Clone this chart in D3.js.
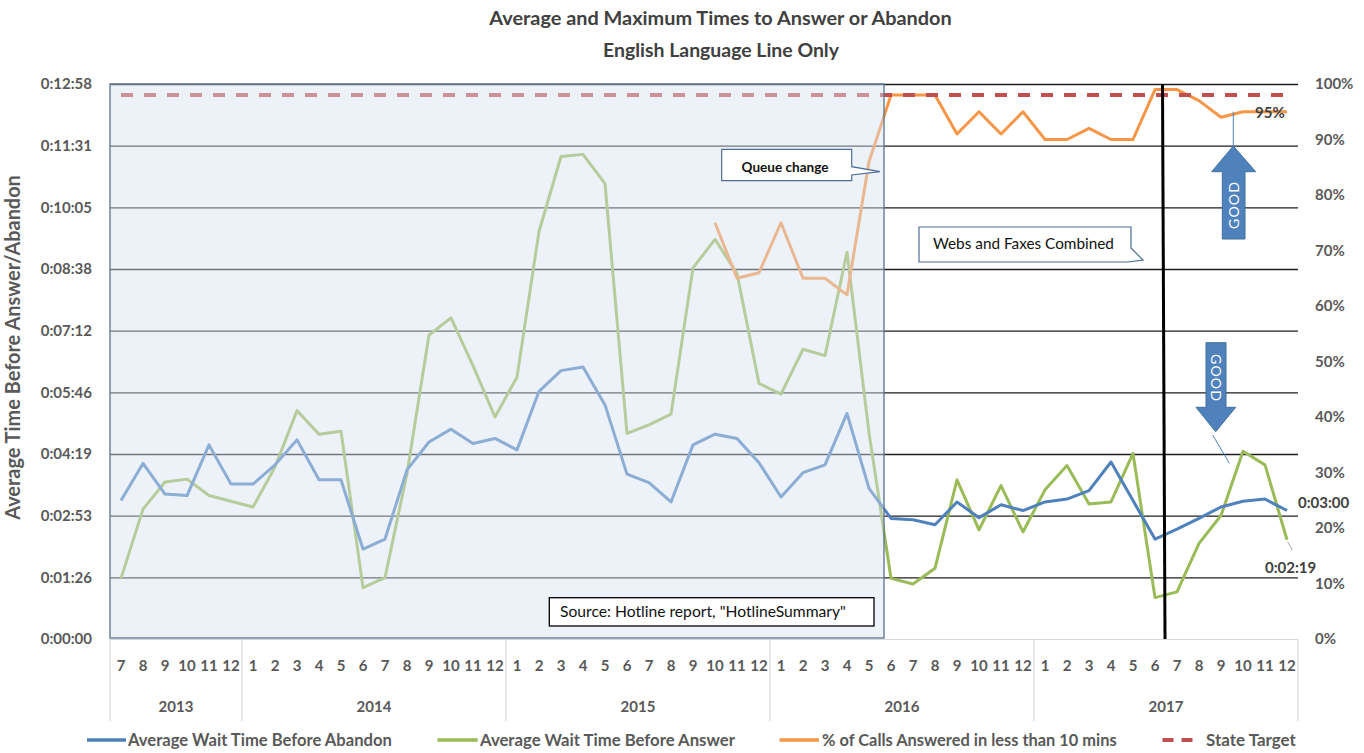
<!DOCTYPE html>
<html><head><meta charset="utf-8">
<script src="https://cdn.jsdelivr.net/npm/d3@7"></script>
<style>
body{margin:0;background:#fff;}
svg{display:block;font-family:Lato,"Open Sans",sans-serif;}
</style>
</head><body>
<svg id="c" width="1364" height="753"></svg>
<script>
// ---------- DATA ----------
const monthLabels = ["7","8","9","10","11","12",
  "1","2","3","4","5","6","7","8","9","10","11","12",
  "1","2","3","4","5","6","7","8","9","10","11","12",
  "1","2","3","4","5","6","7","8","9","10","11","12",
  "1","2","3","4","5","6","7","8","9","10","11","12"];
const yearLabels = ["2013","2014","2015","2016","2017"];
const yearMonthCounts = [6,12,12,12,12];

// seconds
const abandonSec = [194,246,203,201,272,217,
  217,244,279,223,223,126,140,237,276,294,274,281,
  265,347,376,381,328,231,219,192,272,287,281,247,
  199,233,244,316,211,169,167,160,192,170,188,180,
  192,196,208,248,194,140,154,169,185,193,196,180];
const answerSec = [85,182,220,224,201,193,
  185,241,320,287,291,72,86,232,426,450,383,311,
  367,571,676,679,638,288,300,315,520,560,512,358,
  343,406,397,542,289,85,77,99,223,153,215,150,
  209,243,189,192,260,58,66,134,173,263,244,139];
// fraction of calls answered in less than 10 mins (null = not reported)
const pctAnswered = [null,null,null,null,null,null,
  null,null,null,null,null,null,null,null,null,null,null,null,
  null,null,null,null,null,null,null,null,null,0.75,0.65,0.66,
  0.75,0.65,0.65,0.62,0.86,0.98,0.98,0.98,0.91,0.95,0.91,0.95,
  0.90,0.90,0.92,0.90,0.90,0.99,0.99,0.97,0.94,0.95,0.95,0.95];
const stateTarget = 0.98;

const timeTickValues = [0,86.4,172.8,259.2,345.6,432,518.4,604.8,691.2,777.6];
const timeTickLabels = ["0:00:00","0:01:26","0:02:53","0:04:19","0:05:46","0:07:12","0:08:38","0:10:05","0:11:31","0:12:58"];
const pctTickValues = [0,0.1,0.2,0.3,0.4,0.5,0.6,0.7,0.8,0.9,1];
const pctTickLabels = ["0%","10%","20%","30%","40%","50%","60%","70%","80%","90%","100%"];
const seriesNames = ["Average Wait Time Before Abandon","Average Wait Time Before Answer","% of Calls Answered in less than 10 mins","State Target"];
const titleLines = ["Average and Maximum Times to Answer or Abandon","English Language Line Only"];
const yAxisTitle = "Average Time Before Answer/Abandon";
const lastAbandonLabel = "0:03:00";
const lastAnswerLabel = "0:02:19";
const lastPctLabel = "95%";

// ---------- LAYOUT ----------
const W=1364,H=753, L=110, R=1298, T=84, B=639;
const C = {blue:"#4f81bd", green:"#9bbb59", orange:"#f79646", red:"#c0504d", axis:"#595959"};
const svg = d3.select("#c");

const n = monthLabels.length;
const x = d3.scaleBand().domain(d3.range(n)).range([L,R]);
const xc = i => x(i) + x.bandwidth()/2;
const yT = d3.scaleLinear().domain([0,777.6]).range([B,T]);
const yP = d3.scaleLinear().domain([0,1]).range([B,T]);

function fit(sel, w){
  const len = sel.node().getComputedTextLength();
  const fs = parseFloat(sel.attr("font-size"));
  sel.attr("font-size", fs*w/len);
  return sel;
}

// gridlines
const grid = svg.append("g").attr("transform",`translate(${L},0)`)
  .call(d3.axisLeft(yT).tickValues(timeTickValues.slice(1)).tickSize(-(R-L)).tickFormat(""));
grid.select(".domain").remove();
grid.selectAll("line").attr("stroke","#1e1e1e").attr("stroke-width",1.3);

// category axis line
svg.append("line").attr("x1",L).attr("x2",R).attr("y1",B+0.5).attr("y2",B+0.5).attr("stroke","#d9d9d9").attr("stroke-width",1.2);

// series lines
const lineT = d3.line().x((d,i)=>xc(i)).y(d=>yT(d));
const lineP = d3.line().defined(d=>d!=null).x((d,i)=>xc(i)).y(d=>yP(d));
svg.append("path").datum(answerSec).attr("d",lineT).attr("fill","none").attr("stroke",C.green).attr("stroke-width",3).attr("stroke-linejoin","round");
svg.append("path").datum(abandonSec).attr("d",lineT).attr("fill","none").attr("stroke",C.blue).attr("stroke-width",3).attr("stroke-linejoin","round");
svg.append("path").datum(pctAnswered).attr("d",lineP).attr("fill","none").attr("stroke",C.orange).attr("stroke-width",3).attr("stroke-linejoin","round");
svg.append("path").datum(monthLabels.map(()=>stateTarget)).attr("d",lineP).attr("fill","none")
  .attr("stroke",C.red).attr("stroke-width",4).attr("stroke-dasharray","12,11");

// shaded overlay (historical period)
const shadeR = x(35)+4;
svg.append("rect").attr("x",L).attr("y",T).attr("width",shadeR-L).attr("height",B-T-1)
  .attr("fill","rgb(216,226,240)").attr("fill-opacity",0.45)
  .attr("stroke","#5a7090").attr("stroke-width",1.3);

// vertical separator line
svg.append("line").attr("x1",xc(47)+7.5).attr("y1",T).attr("x2",xc(47)+10).attr("y2",B)
  .attr("stroke","#000").attr("stroke-width",3);

// Queue change callout
svg.append("path").attr("d","M721.7,149.3 H851.7 V166.7 L880,171.7 L851.7,175 V180.7 H721.7 Z")
  .attr("fill","#fff").attr("stroke","#4f6d96").attr("stroke-width",1.2);
fit(svg.append("text").attr("x",785).attr("y",171.5).attr("text-anchor","middle")
  .attr("font-size",14).attr("font-weight","bold").attr("fill","#111").text("Queue change"),87);

// Webs and faxes callout
svg.append("path").attr("d","M919,227 H1131 V248 L1143,260 L1128,262 H919 Z")
  .attr("fill","#fff").attr("stroke","#4f6d96").attr("stroke-width",1.2);
fit(svg.append("text").attr("x",1023.5).attr("y",249).attr("text-anchor","middle")
  .attr("font-size",15).attr("fill","#111").text("Webs and Faxes Combined"),181);

// Source box
svg.append("rect").attr("x",549.3).attr("y",597.7).attr("width",324.7).attr("height",28.3)
  .attr("fill","#fff").attr("stroke","#000").attr("stroke-width",1.3);
fit(svg.append("text").attr("x",560).attr("y",617).attr("font-size",14).attr("fill","#111")
  .text("Source: Hotline report, \"HotlineSummary\""),286);

// Up GOOD arrow
svg.append("line").attr("x1",1233.3).attr("y1",111.7).attr("x2",1233.3).attr("y2",146).attr("stroke",C.blue).attr("stroke-width",1);
svg.append("path").attr("d","M1233.3,146 L1255.7,171.7 H1245 V239 H1222.3 V171.7 H1211.7 Z")
  .attr("fill",C.blue).attr("stroke","#41719c").attr("stroke-width",1);
fit(svg.append("text").attr("transform","translate(1239,205) rotate(-90)").attr("text-anchor","middle")
  .attr("font-size",14).attr("fill","#fff").attr("letter-spacing",1).text("GOOD"),48);

// Down GOOD arrow
svg.append("path").attr("d","M1206,342.7 H1226 V407.3 H1235.7 L1215.7,431.7 L1196,407.3 H1206 Z")
  .attr("fill",C.blue).attr("stroke","#41719c").attr("stroke-width",1);
fit(svg.append("text").attr("transform","translate(1211,378) rotate(90)").attr("text-anchor","middle")
  .attr("font-size",14).attr("fill","#fff").attr("letter-spacing",1).text("GOOD"),48);
svg.append("line").attr("x1",1212.7).attr("y1",435).attr("x2",1229.3).attr("y2",463.3).attr("stroke",C.blue).attr("stroke-width",1);

// value labels
svg.append("text").attr("x",xc(n-1)-32).attr("y",yP(pctAnswered[n-1])+6).attr("font-size",15).attr("font-weight","bold").attr("fill","#404040").text(lastPctLabel);
svg.append("text").attr("x",R).attr("y",yT(abandonSec[n-1])-3).attr("font-size",15).attr("font-weight","bold").attr("fill","#404040").text(lastAbandonLabel);
svg.append("line").attr("x1",1287.7).attr("y1",541.7).attr("x2",1292.3).attr("y2",550).attr("stroke","#a6a6a6").attr("stroke-width",1);
svg.append("text").attr("x",1265).attr("y",572.5).attr("font-size",15).attr("font-weight","bold").attr("fill","#404040").text(lastAnswerLabel);

// left axis
const ax = svg.append("g").attr("transform",`translate(${L},0)`)
  .call(d3.axisLeft(yT).tickValues(timeTickValues).tickFormat((d,i)=>timeTickLabels[i]).tickSize(0).tickPadding(18));
ax.select(".domain").remove();
ax.selectAll("text").attr("font-size",15).attr("font-weight","bold").attr("fill",C.axis).attr("font-family","Lato");

// right axis
const ay = svg.append("g").attr("transform",`translate(${R},0)`)
  .call(d3.axisRight(yP).tickValues(pctTickValues).tickFormat((d,i)=>pctTickLabels[i]).tickSize(0).tickPadding(17));
ay.select(".domain").remove();
ay.selectAll("text").attr("font-size",15).attr("font-weight","bold").attr("fill",C.axis).attr("font-family","Lato");

// x axis months
const axx = svg.append("g").attr("transform",`translate(0,${B})`)
  .call(d3.axisBottom(x).tickFormat(i=>monthLabels[i]).tickSize(0).tickPadding(21));
axx.select(".domain").remove();
axx.selectAll("text").attr("font-size",15).attr("font-weight","bold").attr("fill",C.axis).attr("font-family","Lato");

// year separators & labels
let acc=0;
const bounds=[0];
yearMonthCounts.forEach(c=>{acc+=c;bounds.push(acc);});
bounds.forEach(b=>{
  const xx = b<n ? x(b) : R;
  svg.append("line").attr("x1",xx).attr("x2",xx).attr("y1",B).attr("y2",721).attr("stroke","#d9d9d9").attr("stroke-width",1.2);
});
yearLabels.forEach((yl,k)=>{
  const x0 = x(bounds[k]), x1 = bounds[k+1]<n ? x(bounds[k+1]) : R;
  svg.append("text").attr("x",(x0+x1)/2).attr("y",712).attr("text-anchor","middle")
    .attr("font-size",15).attr("font-weight","bold").attr("fill",C.axis).text(yl);
});

// titles
fit(svg.append("text").attr("x",720.5).attr("y",25).attr("text-anchor","middle").attr("font-size",18)
  .attr("font-weight","bold").attr("fill","#404040").text(titleLines[0]),463);
fit(svg.append("text").attr("x",721).attr("y",57).attr("text-anchor","middle").attr("font-size",18)
  .attr("font-weight","bold").attr("fill","#404040").text(titleLines[1]),236);

// y axis title
fit(svg.append("text").attr("transform","translate(20,347.5) rotate(-90)").attr("text-anchor","middle")
  .attr("font-size",15).attr("font-weight","bold").attr("fill",C.axis).text(yAxisTitle),345);

// legend
const legY = 740;
const legItems = [
  {name:seriesNames[0], color:C.blue, x0:87, x1:126, tx:128, w:264},
  {name:seriesNames[1], color:C.green, x0:437.5, x1:477.7, tx:480, w:255},
  {name:seriesNames[2], color:C.orange, x0:779.5, x1:819, tx:822, w:295},
  {name:seriesNames[3], color:C.red, x0:1162.5, x1:1200, tx:1206, w:90, dash:true}
];
legItems.forEach(it=>{
  svg.append("line").attr("x1",it.x0).attr("x2",it.x1).attr("y1",legY).attr("y2",legY)
    .attr("stroke",it.color).attr("stroke-width",it.dash?4:3.5)
    .attr("stroke-dasharray",it.dash?"11,8":null);
  fit(svg.append("text").attr("x",it.tx).attr("y",legY+5.5).attr("font-size",15).attr("font-weight","bold")
    .attr("fill",C.axis).text(it.name),it.w);
});
</script>
</body></html>
